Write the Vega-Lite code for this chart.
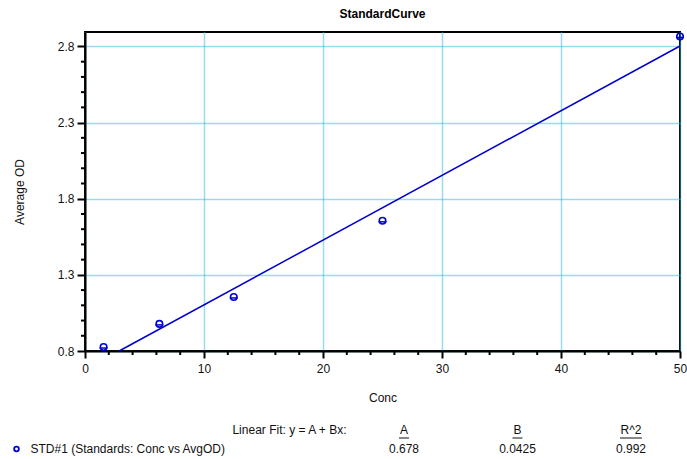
{
  "$schema": "https://vega.github.io/schema/vega-lite/v6.json",
  "width": 595,
  "height": 319,
  "autosize": {"type": "none"},
  "padding": {"left": 85, "top": 32, "right": 7, "bottom": 108},
  "background": "white",
  "config": {
    "font": "Liberation Sans",
    "view": {"stroke": "black", "strokeWidth": 2},
    "axis": {"labelFont": "Liberation Sans", "titleFont": "Liberation Sans", "labelColor": "#111", "titleColor": "#111", "labelFontSize": 12, "titleFontSize": 12, "titleFontWeight": "normal"}
  },
  "title": {"text": "StandardCurve", "fontSize": 12, "fontWeight": "bold", "color": "black", "offset": 9, "anchor": "middle"},
  "datasets": {
    "standards": [
      {"Conc": 1.5625, "OD": 0.826},
      {"Conc": 6.25, "OD": 0.978},
      {"Conc": 12.5, "OD": 1.155},
      {"Conc": 25, "OD": 1.655},
      {"Conc": 50, "OD": 2.866}
    ],
    "fit": [
      {"Conc": 2.87, "OD": 0.8},
      {"Conc": 50, "OD": 2.803}
    ],
    "minorX": [
      {"Conc": 2}, {"Conc": 4}, {"Conc": 6}, {"Conc": 8},
      {"Conc": 12}, {"Conc": 14}, {"Conc": 16}, {"Conc": 18},
      {"Conc": 22}, {"Conc": 24}, {"Conc": 26}, {"Conc": 28},
      {"Conc": 32}, {"Conc": 34}, {"Conc": 36}, {"Conc": 38},
      {"Conc": 42}, {"Conc": 44}, {"Conc": 46}, {"Conc": 48}
    ],
    "minorY": [
      {"OD": 0.9}, {"OD": 1.0}, {"OD": 1.1}, {"OD": 1.2},
      {"OD": 1.4}, {"OD": 1.5}, {"OD": 1.6}, {"OD": 1.7},
      {"OD": 1.9}, {"OD": 2.0}, {"OD": 2.1}, {"OD": 2.2},
      {"OD": 2.4}, {"OD": 2.5}, {"OD": 2.6}, {"OD": 2.7}
    ],
    "table": [
      {"row": "header", "col": "label", "text": "Linear Fit: y = A + Bx:", "kind": "fitlabel"},
      {"row": "header", "col": "A", "text": "A", "kind": "head"},
      {"row": "header", "col": "B", "text": "B", "kind": "head"},
      {"row": "header", "col": "R^2", "text": "R^2", "kind": "head"},
      {"row": "STD", "col": "label", "text": "STD#1 (Standards: Conc vs AvgOD)", "kind": "name"},
      {"row": "STD", "col": "A", "text": "0.678", "kind": "value"},
      {"row": "STD", "col": "B", "text": "0.0425", "kind": "value"},
      {"row": "STD", "col": "R^2", "text": "0.992", "kind": "value"}
    ]
  },
  "layer": [
    {
      "layer": [
        {
          "data": {"name": "standards"},
          "mark": {"type": "point", "shape": "circle", "filled": false, "stroke": "#0000dd", "strokeWidth": 1.6, "size": 42, "opacity": 1, "clip": false},
          "encoding": {
            "x": {"field": "Conc", "type": "quantitative", "title": "Conc",
              "scale": {"domain": [0, 50], "nice": false, "zero": false},
              "axis": {"orient": "bottom", "values": [0, 10, 20, 30, 40, 50], "grid": true, "gridColor": "#33b5e5", "gridDash": [1, 1], "gridWidth": 1.5, "domainColor": "black", "domainWidth": 2, "tickColor": "black", "tickWidth": 2, "tickSize": 7, "labelPadding": 5, "titlePadding": 18, "labelFlush": false, "labelOverlap": false}},
            "y": {"field": "OD", "type": "quantitative", "title": "Average OD",
              "scale": {"domain": [0.8, 2.895], "nice": false, "zero": false},
              "axis": {"orient": "left", "values": [0.8, 1.3, 1.8, 2.3, 2.8], "format": ".1f", "grid": true, "gridColor": "#33b5e5", "gridDash": [1, 1], "gridWidth": 1.5, "domainColor": "black", "domainWidth": 2, "tickColor": "black", "tickWidth": 2, "tickSize": 8, "labelPadding": 3, "titlePadding": 31, "labelFlush": false, "labelOverlap": false}}
          }
        },
        {
          "data": {"name": "standards"},
          "mark": {"type": "tick", "orient": "horizontal", "color": "#0000dd", "size": 8, "thickness": 1.5, "yOffset": 1, "opacity": 1, "clip": false},
          "encoding": {
            "x": {"field": "Conc", "type": "quantitative"},
            "y": {"field": "OD", "type": "quantitative"}
          }
        },
        {
          "data": {"name": "fit"},
          "mark": {"type": "line", "color": "#0000cc", "strokeWidth": 1.5},
          "encoding": {
            "x": {"field": "Conc", "type": "quantitative"},
            "y": {"field": "OD", "type": "quantitative"}
          }
        },
        {
          "data": {"name": "minorX"},
          "mark": {"type": "rule", "color": "black", "strokeWidth": 2, "y2Offset": 4, "clip": false},
          "encoding": {
            "x": {"field": "Conc", "type": "quantitative"},
            "y": {"datum": 0.8, "type": "quantitative"},
            "y2": {"datum": 0.8}
          }
        },
        {
          "data": {"name": "minorY"},
          "mark": {"type": "rule", "color": "black", "strokeWidth": 2, "x2Offset": -4, "clip": false},
          "encoding": {
            "y": {"field": "OD", "type": "quantitative"},
            "x": {"datum": 0, "type": "quantitative"},
            "x2": {"datum": 0}
          }
        }
      ]
    },
    {
      "data": {"name": "table"},
      "encoding": {
        "x": {"field": "col", "type": "nominal", "axis": null, "scale": {"type": "point", "padding": 0, "domain": ["label", "A", "B", "R^2"], "range": [205.5, 546]}},
        "y": {"field": "row", "type": "nominal", "axis": null, "scale": {"type": "point", "padding": 0, "domain": ["header", "STD"], "range": [398, 417]}}
      },
      "layer": [
        {
          "transform": [{"filter": "datum.kind === 'head' || datum.kind === 'value'"}],
          "mark": {"type": "text", "align": "center", "baseline": "middle", "fontSize": 12, "color": "#111", "font": "Liberation Sans"},
          "encoding": {"text": {"field": "text"}}
        },
        {
          "transform": [{"filter": "datum.kind === 'fitlabel'"}],
          "mark": {"type": "text", "align": "right", "baseline": "middle", "fontSize": 12, "color": "#111", "font": "Liberation Sans", "dx": 56},
          "encoding": {"text": {"field": "text"}}
        },
        {
          "transform": [{"filter": "datum.kind === 'name'"}],
          "mark": {"type": "text", "align": "left", "baseline": "middle", "fontSize": 12, "color": "#111", "font": "Liberation Sans", "dx": -260},
          "encoding": {"text": {"field": "text"}}
        },
        {
          "transform": [{"filter": "datum.kind === 'name'"}],
          "mark": {"type": "point", "shape": "circle", "filled": false, "stroke": "#0000dd", "strokeWidth": 1.8, "size": 22, "opacity": 1, "xOffset": -274}
        },
        {
          "transform": [{"filter": "datum.kind === 'head' && datum.col !== 'R^2'"}],
          "mark": {"type": "rule", "color": "#111", "strokeWidth": 1, "xOffset": -5, "x2Offset": 5, "yOffset": 8},
          "encoding": {"x2": {"field": "col"}}
        },
        {
          "transform": [{"filter": "datum.col === 'R^2' && datum.kind === 'head'"}],
          "mark": {"type": "rule", "color": "#111", "strokeWidth": 1, "xOffset": -11, "x2Offset": 11, "yOffset": 8},
          "encoding": {"x2": {"field": "col"}}
        }
      ]
    }
  ],
  "resolve": {"scale": {"x": "independent", "y": "independent"}}
}
